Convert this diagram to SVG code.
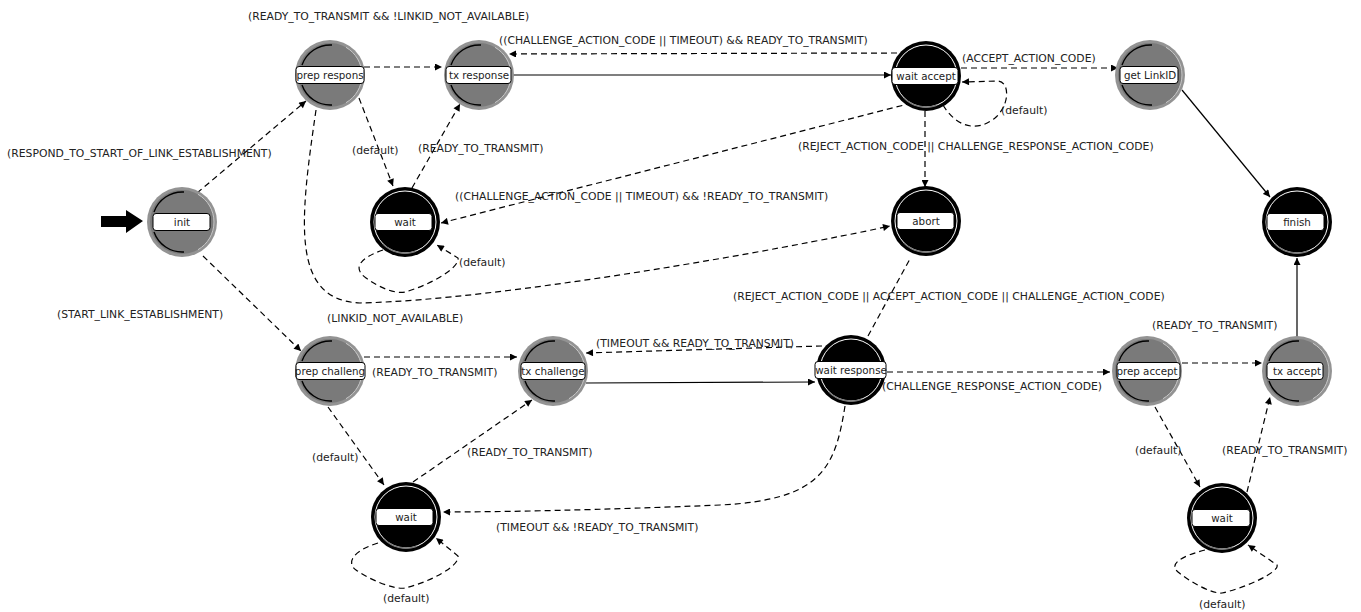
<svg xmlns="http://www.w3.org/2000/svg" width="1361" height="612" viewBox="0 0 1361 612">
<style>
.e{fill:none;stroke:#000;stroke-width:1.2;marker-end:url(#ah)}
.d{stroke-dasharray:6 4}
.t{font-family:"DejaVu Sans",sans-serif;font-size:10.8px;fill:#222}
.nl{font-family:"DejaVu Sans",sans-serif;font-size:10.3px;fill:#222;text-anchor:middle}
.bx{fill:#fff;stroke:#000;stroke-width:1}
</style>
<defs>
<marker id="ah" viewBox="0 0 10 10" refX="10" refY="5" markerWidth="9" markerHeight="7" markerUnits="userSpaceOnUse" orient="auto"><path d="M0,0 L10,5 L0,10 z" fill="#000"/></marker>
<g id="gn">
<circle r="35" fill="#939393"/>
<circle r="32" fill="#7a7a7a"/>
<path d="M16,-27.7 A32 32 0 0 1 16,27.7" fill="none" stroke="#c8c8c8" stroke-width="1"/>
<path d="M2,-30 A30 30 0 0 0 -28,-10" fill="none" stroke="#000" stroke-width="1.4"/>
<path d="M-28,10 A30 30 0 0 0 2,30" fill="none" stroke="#000" stroke-width="1.4"/>
</g>
<g id="bn">
<circle r="35" fill="#000"/>
<circle r="31" fill="none" stroke="#fff" stroke-width="1"/>
<path d="M-22,22 A31 31 0 0 0 10,29.5" fill="none" stroke="#777" stroke-width="1.5"/>
</g>
</defs>
<rect width="1361" height="612" fill="#fff"/>

<g id="connectors">
<polygon points="101,216 126,216 126,210 143,221 126,233 126,227 101,227" fill="#000"/>
<path class="e d" d="M197,193 L306,101"/>
<path class="e d" d="M203,256 L301,351"/>
<path class="e d" d="M364,67 L442,67"/>
<path class="e d" d="M359,98 L393,186"/>
<path class="e d" d="M412,188 L460,104"/>
<path class="e d" d="M316,110 C300,220 290,300 360,303 C500,300 780,250 890,226"/>
<path class="e" d="M513,75 L891,75"/>
<path class="e d" d="M897,53 L509,54"/>
<path class="e d" d="M912,103 L441,223"/>
<path class="e d" d="M943,105 C955,125 975,134 995,118 C1010,105 1010,82 998,81 L962,82"/>
<path class="e d" d="M961,68 L1118,68"/>
<path class="e d" d="M925,111 L925,187"/>
<path class="e" d="M1182,90 L1270,197"/>
<path class="e d" d="M383,250 C360,258 352,268 366,278 C380,288 395,294 405,292 C430,285 460,268 458,258 L437,245"/>
<path class="fill:none" d="M868,336 L911,257" fill="none" stroke="#000" stroke-width="1.2" stroke-dasharray="6 4"/>
<path class="e d" d="M364,357 L517,357"/>
<path class="e d" d="M822,346 L586,353"/>
<path class="e" d="M586,383 L815,382"/>
<path class="e d" d="M328,407 L384,485"/>
<path class="e d" d="M413,482 L532,400"/>
<path class="e d" d="M845,406 C835,470 820,500 720,505 C600,510 500,512 443,512"/>
<path class="e d" d="M378,543 C355,550 345,562 356,570 C370,580 395,590 405,588 C430,582 460,566 458,556 L436,538"/>
<path class="e d" d="M887,372 L1110,372"/>
<path class="e d" d="M1182,363 L1262,363"/>
<path class="e" d="M1297,337 L1297,258"/>
<path class="e d" d="M1155,407 L1200,487"/>
<path class="e d" d="M1247,492 L1270,397"/>
<path class="e d" d="M1205,550 C1182,556 1168,564 1178,572 C1190,582 1212,594 1222,593 C1245,588 1280,572 1277,565 L1248,545"/>
</g>

<g id="labels">
<text class="t" x="248" y="20">(READY_TO_TRANSMIT &amp;&amp; !LINKID_NOT_AVAILABLE)</text>
<text class="t" x="499" y="44">((CHALLENGE_ACTION_CODE || TIMEOUT) &amp;&amp; READY_TO_TRANSMIT)</text>
<text class="t" x="962" y="62">(ACCEPT_ACTION_CODE)</text>
<text class="t" x="1001" y="114">(default)</text>
<text class="t" x="7" y="157">(RESPOND_TO_START_OF_LINK_ESTABLISHMENT)</text>
<text class="t" x="352" y="154">(default)</text>
<text class="t" x="418" y="152">(READY_TO_TRANSMIT)</text>
<text class="t" x="798" y="150">(REJECT_ACTION_CODE || CHALLENGE_RESPONSE_ACTION_CODE)</text>
<text class="t" x="455" y="200">((CHALLENGE_ACTION_CODE || TIMEOUT) &amp;&amp; !READY_TO_TRANSMIT)</text>
<text class="t" x="459" y="266">(default)</text>
<text class="t" x="733" y="300">(REJECT_ACTION_CODE || ACCEPT_ACTION_CODE || CHALLENGE_ACTION_CODE)</text>
<text class="t" x="57" y="318">(START_LINK_ESTABLISHMENT)</text>
<text class="t" x="327" y="322">(LINKID_NOT_AVAILABLE)</text>
<text class="t" x="1152" y="329">(READY_TO_TRANSMIT)</text>
<text class="t" x="596" y="347">(TIMEOUT &amp;&amp; READY_TO_TRANSMIT)</text>
<text class="t" x="372" y="376">(READY_TO_TRANSMIT)</text>
<text class="t" x="882" y="390">(CHALLENGE_RESPONSE_ACTION_CODE)</text>
<text class="t" x="312" y="461">(default)</text>
<text class="t" x="467" y="456">(READY_TO_TRANSMIT)</text>
<text class="t" x="1135" y="454">(default)</text>
<text class="t" x="1222" y="454">(READY_TO_TRANSMIT)</text>
<text class="t" x="496" y="531">(TIMEOUT &amp;&amp; !READY_TO_TRANSMIT)</text>
<text class="t" x="383" y="602">(default)</text>
<text class="t" x="1199" y="608">(default)</text>
</g>

<g id="n-init" transform="translate(182,222)"><use href="#gn"/><rect class="bx" x="-29" y="-8.5" width="57" height="17" rx="3"/><text class="nl" y="4">init</text></g>
<g id="n-prep-respons" transform="translate(330,75)"><use href="#gn"/><rect class="bx" x="-34" y="-8.5" width="68" height="17" rx="3"/><text class="nl" y="4">prep respons</text></g>
<g id="n-tx-response" transform="translate(479,75)"><use href="#gn"/><rect class="bx" x="-33" y="-8.5" width="65" height="17" rx="3"/><text class="nl" y="4">tx response</text></g>
<g id="n-wait-accept" transform="translate(926,76)"><use href="#bn"/><rect class="bx" x="-34" y="-8.5" width="66" height="17" rx="3"/><text class="nl" y="4">wait accept</text></g>
<g id="n-get-linkid" transform="translate(1150,75)"><use href="#gn"/><rect class="bx" x="-30" y="-8.5" width="58" height="17" rx="3"/><text class="nl" y="4">get LinkID</text></g>
<g id="n-wait1" transform="translate(405,222)"><use href="#bn"/><rect class="bx" x="-30" y="-8.5" width="57" height="17" rx="3"/><text class="nl" y="4">wait</text></g>
<g id="n-abort" transform="translate(926,221)"><use href="#bn"/><rect class="bx" x="-29" y="-8.5" width="57" height="17" rx="3"/><text class="nl" y="4">abort</text></g>
<g id="n-finish" transform="translate(1297,222)"><use href="#bn"/><rect class="bx" x="-30" y="-8.5" width="57" height="17" rx="3"/><text class="nl" y="4">finish</text></g>
<g id="n-prep-challeng" transform="translate(330,371)"><use href="#gn"/><rect class="bx" x="-34" y="-8.5" width="69" height="17" rx="3"/><text class="nl" y="4">prep challeng</text></g>
<g id="n-tx-challenge" transform="translate(553,371)"><use href="#gn"/><rect class="bx" x="-32" y="-8.5" width="64" height="17" rx="3"/><text class="nl" y="4">tx challenge</text></g>
<g id="n-wait-response" transform="translate(851,370)"><use href="#bn"/><rect class="bx" x="-36" y="-8.5" width="71" height="17" rx="3"/><text class="nl" y="4">wait response</text></g>
<g id="n-prep-accept" transform="translate(1147,371)"><use href="#gn"/><rect class="bx" x="-30" y="-8.5" width="63" height="17" rx="3"/><text class="nl" y="4">prep accept</text></g>
<g id="n-tx-accept" transform="translate(1297,371)"><use href="#gn"/><rect class="bx" x="-30" y="-8.5" width="56" height="17" rx="3"/><text class="nl" y="4">tx accept</text></g>
<g id="n-wait2" transform="translate(406,517)"><use href="#bn"/><rect class="bx" x="-30" y="-8.5" width="57" height="17" rx="3"/><text class="nl" y="4">wait</text></g>
<g id="n-wait3" transform="translate(1222,518)"><use href="#bn"/><rect class="bx" x="-30" y="-8.5" width="58" height="17" rx="3"/><text class="nl" y="4">wait</text></g>
</svg>
